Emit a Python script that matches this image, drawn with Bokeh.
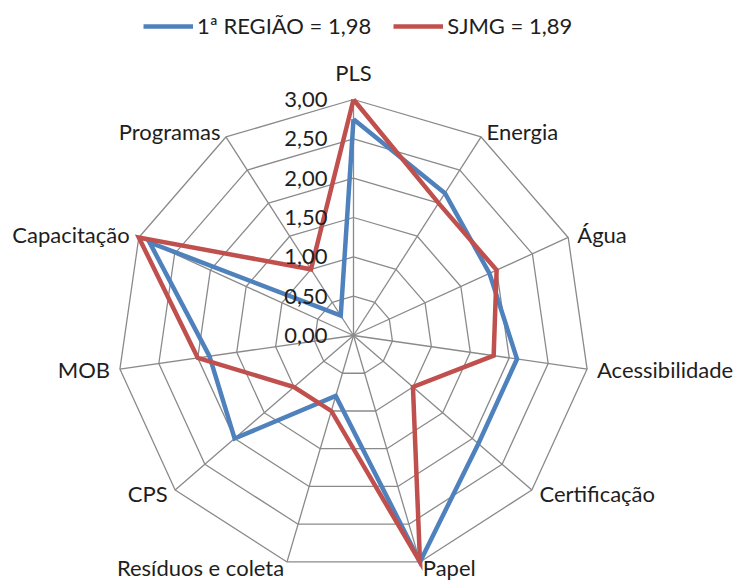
import numpy as np
from bokeh.plotting import figure
from bokeh.models import Range1d, ColumnDataSource, Legend, LegendItem
from bokeh.core.properties import value
from bokeh.embed import file_html
from bokeh.resources import INLINE

categories = ["PLS", "Energia", "Água", "Acessibilidade", "Certificação", "Papel",
              "Resíduos e coleta", "CPS", "MOB", "Capacitação", "Programas"]
regiao = [2.75, 2.15, 1.90, 2.10, 2.10, 3.00, 0.80, 2.00, 1.85, 2.85, 0.30]
sjmg = [3.00, 2.00, 2.00, 1.80, 1.00, 3.00, 1.00, 1.00, 2.00, 3.00, 1.00]
ring_values = [0.5, 1.0, 1.5, 2.0, 2.5, 3.0]
tick_values = [0.0, 0.5, 1.0, 1.5, 2.0, 2.5, 3.0]
tick_labels = ["0,00", "0,50", "1,00", "1,50", "2,00", "2,50", "3,00"]
series_names = ["1ª REGIÃO = 1,98", "SJMG = 1,89"]

W, H = 735, 581
CX, CY = 353, 335          # centre in figure pixels (from left / top)
RMAX = 3.0
PX = 236 / RMAX            # pixels per unit
FONT = "Lato"
FS = "22px"
TXT = "#1e1e1e"
GRID = "#8a8a8a"
BLUE = "#4F81BD"
RED = "#C0504D"

n = len(categories)
ang = np.pi / 2 - np.arange(n) * 2 * np.pi / n
ca, sa = np.cos(ang), np.sin(ang)

p = figure(width=W, height=H, output_backend="svg", toolbar_location=None,
           x_range=Range1d(-CX / PX, (W - CX) / PX),
           y_range=Range1d(-(H - CY) / PX, CY / PX),
           min_border=0)
p.axis.visible = False
p.grid.visible = False
p.outline_line_color = None
p.background_fill_color = "white"

# rings
rx = [list(np.append(r * ca, r * ca[0])) for r in ring_values]
ry = [list(np.append(r * sa, r * sa[0])) for r in ring_values]
p.multi_line(rx, ry, line_color=GRID, line_width=1.3)
# spokes
p.segment(x0=np.zeros(n), y0=np.zeros(n), x1=RMAX * ca, y1=RMAX * sa,
          line_color=GRID, line_width=1.3)

# series
def closed(vals):
    v = np.array(vals)
    return list(np.append(v * ca, v[0] * ca[0])), list(np.append(v * sa, v[0] * sa[0]))

bx, by = closed(regiao)
rxs, rys = closed(sjmg)
r_blue = p.line(bx, by, line_color=BLUE, line_width=4.5, line_join="miter")
r_red = p.line(rxs, rys, line_color=RED, line_width=4.5, line_join="miter")

# radial tick labels
p.text(x=[-26 / PX] * len(tick_values), y=tick_values, text=tick_labels,
       text_align="right", text_baseline="middle", text_font=value(FONT),
       text_font_size=FS, text_color=TXT)

# category labels
pad_x = 10 / PX
pad_y = 6 / PX
lx, ly, al, bl = [], [], [], []
for c, s in zip(ca, sa):
    if abs(c) < 0.2 and s > 0:
        lx.append(0.0); ly.append(RMAX + 14 / PX); al.append("center"); bl.append("bottom")
    else:
        lx.append(RMAX * c + pad_x * c)
        ly.append(RMAX * s + pad_y * s)
        al.append("left" if c > 0 else "right")
        bl.append("middle")
src = ColumnDataSource(dict(x=lx, y=ly, t=categories, a=al, b=bl))
p.text(x="x", y="y", text="t", text_align="a", text_baseline="b", source=src,
       text_font=value(FONT), text_font_size=FS, text_color=TXT)

legend = Legend(items=[LegendItem(label=series_names[0], renderers=[r_blue]),
                       LegendItem(label=series_names[1], renderers=[r_red])],
                orientation="horizontal", location=(143, 542),
                glyph_width=50, glyph_height=20, label_height=20,
                label_standoff=4, spacing=22, padding=0, margin=0,
                border_line_color=None, background_fill_alpha=0,
                label_text_font=FONT, label_text_font_size=FS,
                label_text_color=TXT)
p.add_layout(legend)

open("out.html", "w").write(file_html(p, INLINE))
